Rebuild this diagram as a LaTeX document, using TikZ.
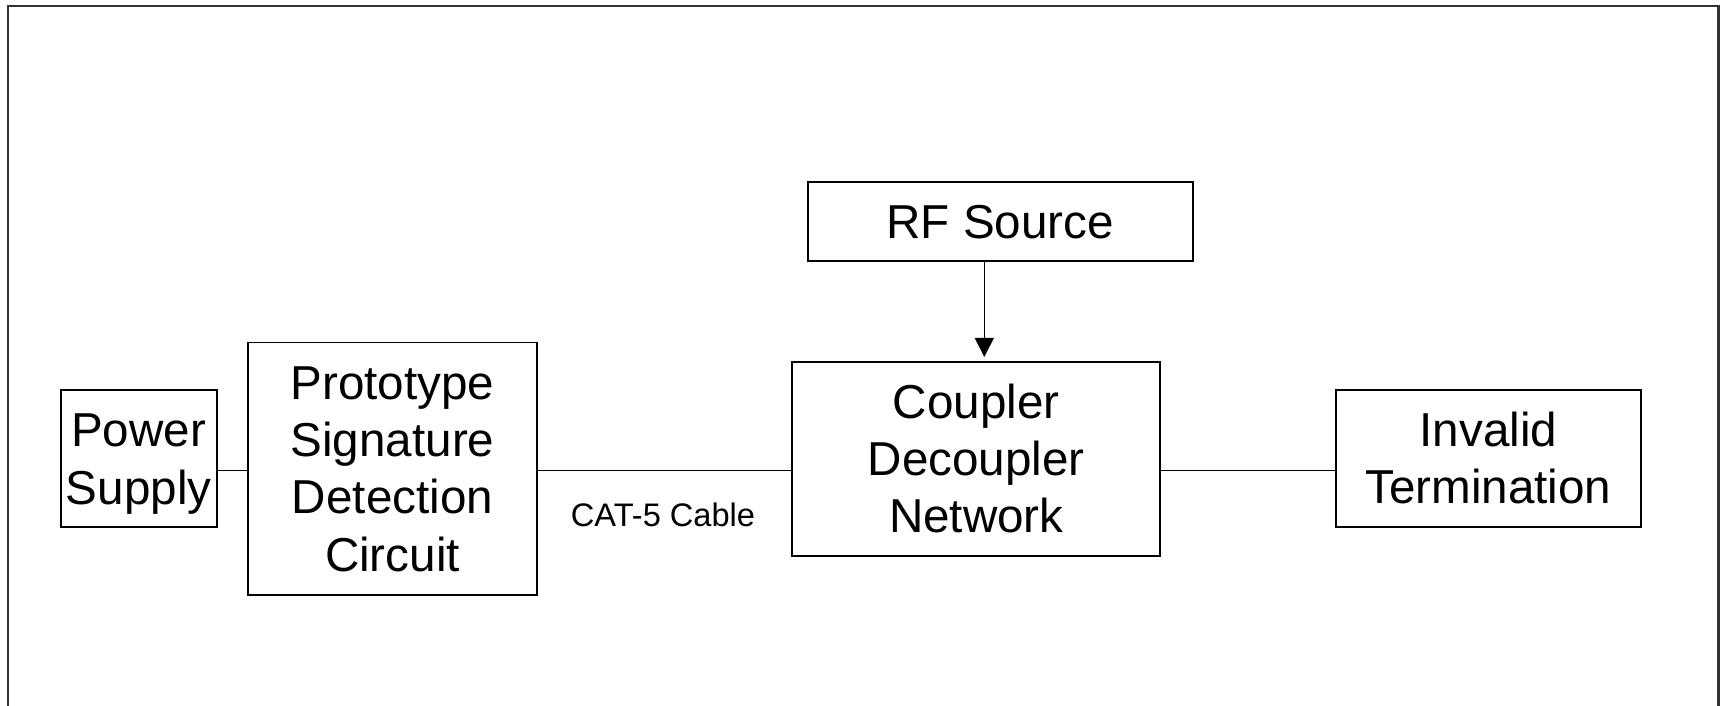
\documentclass[tikz,border=0pt]{standalone}
\usepackage{fontspec}
\setmainfont{Liberation Sans}
\usetikzlibrary{arrows.meta}
\newcommand{\lnstrut}{\rule[-5.1pt]{0pt}{26.7pt}}
\begin{document}
\begin{tikzpicture}[x=0.5pt,y=-0.5pt,
  box/.style={draw,line width=0.85pt,inner sep=0pt,align=center,
    font=\fontsize{23.8pt}{28.7pt}\selectfont},
  wire/.style={line width=0.8pt}]
\useasboundingbox (0,0) rectangle (1720,706);
\draw[line width=1.1pt,black!80] (8,706) |- (1718.5,6) -- (1718.5,706);
\node[box,minimum width=78pt,minimum height=68.5pt] (ps) at (138.7,458.8) {\lnstrut Power\\\lnstrut Supply};
\node[box,minimum width=144.2pt,minimum height=126.35pt] (psdc) at (392.5,468.7) {\lnstrut Prototype\\\lnstrut Signature\\\lnstrut Detection\\\lnstrut Circuit};
\node[box,minimum width=192.5pt,minimum height=39.35pt] (rf) at (1000.2,221.7) {\lnstrut RF Source};
\node[box,minimum width=184pt,minimum height=97.15pt] (cdn) at (976.3,458.9) {\lnstrut Coupler\\\lnstrut Decoupler\\\lnstrut Network};
\node[box,minimum width=152.35pt,minimum height=68.35pt] (it) at (1488.3,458.3) {\lnstrut Invalid\\\lnstrut Termination};
\coordinate (wy) at (0,470.5);
\coordinate (ax) at (984.3,0);
\draw[wire] (ps.east |- wy) -- (psdc.west |- wy);
\draw[wire] (psdc.east |- wy) -- (cdn.west |- wy);
\draw[wire] (cdn.east |- wy) -- (it.west |- wy);
\draw[wire,-{Triangle[width=9.5pt,length=9.5pt]},shorten >=2pt] (rf.south -| ax) -- (cdn.north -| ax);
\node[anchor=base,inner sep=0pt,font=\fontsize{16.3pt}{19pt}\selectfont] (cat) at (663,526) {CAT-5 Cable};
\end{tikzpicture}
\end{document}
